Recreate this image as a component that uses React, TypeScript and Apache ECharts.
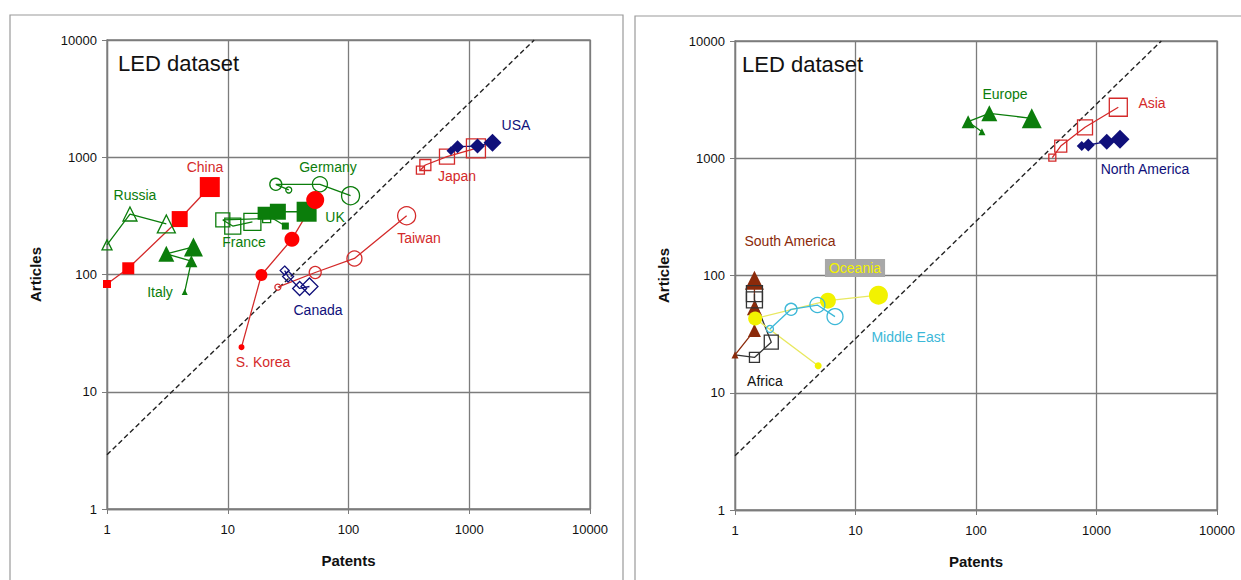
import React, { useEffect, useRef } from "react";
import * as echarts from "echarts";

// ---------- Left panel (countries) ----------
const chinaPatents = [1, 1.5, 4.0, 7.1];
const chinaArticles = [83, 113, 297, 557];
const russiaPatents = [1, 1.55, 3.1];
const russiaArticles = [179, 328, 270];
const italyPatents = [4.4, 5.0, 3.1, 5.2];
const italyArticles = [71, 130, 150, 172];
const francePatents = [21, 9.1, 11, 16];
const franceArticles = [300, 292, 259, 281];
const ukPatents = [30, 20, 26, 45];
const ukArticles = [259, 333, 343, 343];
const germanyPatents = [32, 25, 58, 104];
const germanyArticles = [526, 588, 588, 470];
const koreaPatents = [13, 19, 34, 53];
const koreaArticles = [24, 99, 200, 432];
const taiwanPatents = [26, 53, 112, 303];
const taiwanArticles = [78, 104, 137, 317];
const canadaPatents = [29.6, 31.6, 39.4, 47.5];
const canadaArticles = [108, 96, 76, 79];
const japanPatents = [394, 433, 654, 1136];
const japanArticles = [778, 859, 1011, 1192];
const usaPatents = [706, 800, 1171, 1558];
const usaArticles = [1137, 1231, 1246, 1331];

// ---------- Right panel (regions) ----------
const europePatents = [112, 86, 129, 290];
const europeArticles = [1685, 2050, 2417, 2190];
const asiaPatents = [430, 505, 803, 1517];
const asiaArticles = [1011, 1271, 1836, 2722];
const naPatents = [754, 855, 1216, 1567];
const naArticles = [1271, 1297, 1384, 1452];
const saPatents = [1, 1.45, 1.45, 1.45];
const saArticles = [21, 34, 53, 91];
const africaPatents = [1, 1.45, 2.0, 1.45, 1.45];
const africaArticles = [21, 20, 27, 62, 70];
const oceaniaPatents = [4.9, 1.47, 5.9, 15.5];
const oceaniaArticles = [17, 43, 61, 68];
const meastPatents = [1.95, 2.92, 4.83, 6.76];
const meastArticles = [35, 51.5, 56, 44.6];

// reference diagonal (articles = 2.9 x patents)
const diagPatents = [1, 3450];
const diagArticles = [2.9, 10000];

const axisTicks = ["1", "10", "100", "1000", "10000"];

const RED = "#ff0000";
const DRED = "#d42a2a";
const GREEN = "#0b7d0b";
const NAVY = "#10107a";
const BROWN = "#8b2a0a";
const YELLOW = "#f2f200";
const CYAN = "#3cb8d8";
const BLACK = "#333333";
const GRID = "#7c7c7c";

function mk(
  name: string,
  xs: number[],
  ys: number[],
  sizes: number[],
  symbol: string,
  color: string,
  filled: boolean,
  axis: number,
  lineColor?: string
) {
  return {
    type: "line",
    name,
    xAxisIndex: axis,
    yAxisIndex: axis,
    data: xs.map((x, i) => [x, ys[i]]),
    symbol,
    showAllSymbol: true,
    symbolSize: (_v: any, p: any) => sizes[p.dataIndex] ?? sizes[sizes.length - 1],
    lineStyle: { color: lineColor || color, width: 1.3 },
    itemStyle: {
      color: filled ? color : "rgba(255,255,255,0)",
      borderColor: color,
      borderWidth: filled ? 0 : 1.3,
    },
    emphasis: { disabled: true },
    z: 3,
  };
}

function diag(axis: number) {
  return {
    type: "line",
    name: "diag" + axis,
    xAxisIndex: axis,
    yAxisIndex: axis,
    data: diagPatents.map((x, i) => [x, diagArticles[i]]),
    symbol: "none",
    lineStyle: { color: "#222", width: 1.4, type: [5, 3] },
    z: 2,
  };
}

function txt(x: number, y: number, text: string, color: string, size = 14, align = "center", extra: any = {}) {
  return {
    type: "text",
    x,
    y,
    style: {
      text,
      fill: color,
      font: `${size}px "Liberation Sans", Arial, sans-serif`,
      align,
      verticalAlign: "middle",
      ...extra,
    },
    z: 10,
  };
}

function xAxis(grid: number) {
  return {
    type: "log",
    logBase: 10,
    gridIndex: grid,
    min: 1,
    max: 10000,
    name: "Patents",
    nameLocation: "middle",
    nameGap: 44,
    nameTextStyle: { fontWeight: "bold", fontSize: 15, color: "#111", fontFamily: "Liberation Sans" },
    axisLine: { show: true, lineStyle: { color: GRID, width: 1.3 } },
    axisTick: { show: true, length: 5, lineStyle: { color: GRID } },
    axisLabel: {
      color: "#111",
      fontSize: 13,
      fontFamily: "Liberation Sans",
      margin: 14,
      formatter: (v: number) => axisTicks[Math.round(Math.log10(v))] ?? String(v),
    },
    splitLine: { show: true, lineStyle: { color: GRID, width: 1.3 } },
  };
}
function yAxis(grid: number) {
  return {
    type: "log",
    logBase: 10,
    gridIndex: grid,
    min: 1,
    max: 10000,
    name: "Articles",
    nameLocation: "middle",
    nameGap: 64,
    nameRotate: 90,
    nameTextStyle: { fontWeight: "bold", fontSize: 15, color: "#111", fontFamily: "Liberation Sans" },
    axisLine: { show: true, lineStyle: { color: GRID, width: 1.3 } },
    axisTick: { show: true, length: 5, lineStyle: { color: GRID } },
    axisLabel: {
      color: "#111",
      fontSize: 13,
      fontFamily: "Liberation Sans",
      margin: 10,
      formatter: (v: number) => axisTicks[Math.round(Math.log10(v))] ?? String(v),
    },
    splitLine: { show: true, lineStyle: { color: GRID, width: 1.3 } },
  };
}

export default function App() {
  const ref = useRef<HTMLDivElement>(null);
  useEffect(() => {
    if (!ref.current) return;
    const chart = echarts.init(ref.current, undefined, { renderer: "svg" });
    chart.setOption({
      animation: false,
      backgroundColor: "#ffffff",
      textStyle: { fontFamily: "Liberation Sans" },
      grid: [
        { left: 107, top: 40, width: 483, height: 469, show: true, borderColor: GRID, borderWidth: 1.3 },
        { left: 735, top: 41, width: 482, height: 469, show: true, borderColor: GRID, borderWidth: 1.3 },
      ],
      xAxis: [xAxis(0), xAxis(1)],
      yAxis: [yAxis(0), yAxis(1)],
      series: [
        diag(0),
        diag(1),
        mk("China", chinaPatents, chinaArticles, [8, 12, 16, 20], "rect", RED, true, 0, DRED),
        mk("Russia", russiaPatents, russiaArticles, [10, 14, 18], "triangle", GREEN, false, 0),
        mk("Italy", italyPatents, italyArticles, [6, 12, 16, 19], "triangle", GREEN, true, 0),
        mk("France", francePatents, franceArticles, [8, 14, 16, 17], "rect", GREEN, false, 0),
        mk("UK", ukPatents, ukArticles, [7, 13, 16, 20], "rect", GREEN, true, 0),
        mk("Germany", germanyPatents, germanyArticles, [6, 12, 15, 18], "circle", GREEN, false, 0),
        mk("S. Korea", koreaPatents, koreaArticles, [6, 12, 15, 18], "circle", RED, true, 0, DRED),
        mk("Taiwan", taiwanPatents, taiwanArticles, [6, 12, 15, 18], "circle", DRED, false, 0),
        mk("Canada", canadaPatents, canadaArticles, [9, 11, 14, 17], "diamond", NAVY, false, 0),
        mk("Japan", japanPatents, japanArticles, [8, 11, 15, 19], "rect", DRED, false, 0),
        mk("USA", usaPatents, usaArticles, [9, 13, 15, 18], "diamond", NAVY, true, 0),

        mk("Europe", europePatents, europeArticles, [7, 13, 16, 20], "triangle", GREEN, true, 1),
        mk("Asia", asiaPatents, asiaArticles, [7, 12, 15, 18], "rect", DRED, false, 1),
        mk("North America", naPatents, naArticles, [10, 13, 16, 19], "diamond", NAVY, true, 1),
        mk("South America", saPatents, saArticles, [7, 13, 15, 19], "triangle", BROWN, true, 1),
        mk("Africa", africaPatents, africaArticles, [0, 10, 14, 16, 16], "rect", BLACK, false, 1),
        mk("Oceania", oceaniaPatents, oceaniaArticles, [7, 14, 16, 19], "circle", YELLOW, true, 1, "#e8e860"),
        mk("Middle East", meastPatents, meastArticles, [7, 12, 15, 16], "circle", CYAN, false, 1),
      ],
      graphic: [
        { type: "rect", shape: { x: 10, y: 15, width: 613, height: 620 }, style: { fill: "none", stroke: "#9a9a9a", lineWidth: 1.2 }, z: 0 },
        { type: "rect", shape: { x: 635, y: 16, width: 700, height: 620 }, style: { fill: "none", stroke: "#9a9a9a", lineWidth: 1.2 }, z: 0 },
        txt(118, 63, "LED dataset", "#111", 22, "left"),
        txt(205, 167, "China", DRED),
        txt(135, 195, "Russia", GREEN),
        txt(328, 167, "Germany", GREEN),
        txt(335, 217, "UK", GREEN),
        txt(244, 242, "France", GREEN),
        txt(160, 292, "Italy", GREEN),
        txt(419, 238, "Taiwan", DRED),
        txt(318, 310, "Canada", NAVY),
        txt(263, 362, "S. Korea", DRED),
        txt(457, 176, "Japan", DRED),
        txt(516, 125, "USA", NAVY),

        txt(742, 64, "LED dataset", "#111", 22, "left"),
        txt(1005, 94, "Europe", GREEN),
        txt(1152, 103, "Asia", DRED),
        txt(1145, 169, "North America", NAVY),
        txt(790, 241, "South America", BROWN),
        txt(855, 268, "Oceania", YELLOW, 14, "center", { backgroundColor: "#a8a8a8", padding: [2, 4] }),
        txt(908, 337, "Middle East", CYAN),
        txt(765, 381, "Africa", "#111"),
      ],
    } as any);
    return () => chart.dispose();
  }, []);
  return (
    <div
      ref={ref}
      style={{ position: "fixed", left: 0, top: 0, width: 1241, height: 580, background: "#fff" }}
    />
  );
}
